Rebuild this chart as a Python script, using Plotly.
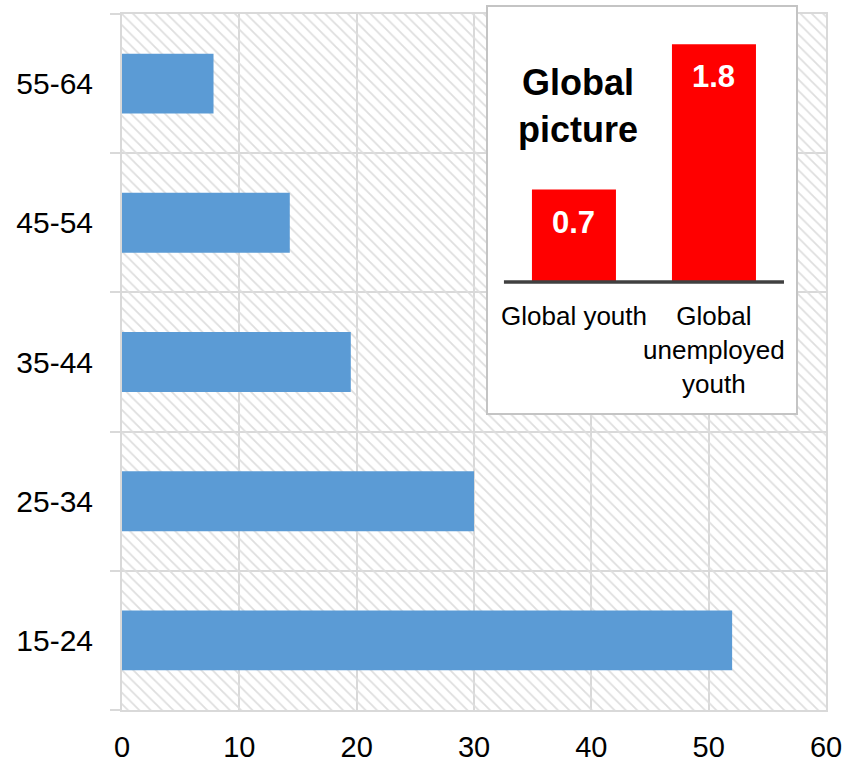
import plotly.graph_objects as go

# Age groups (bottom to top) and their values
age_groups = ["15-24", "25-34", "35-44", "45-54", "55-64"]
age_values = [52.0, 30.0, 19.5, 14.3, 7.8]
x_ticks = [0, 10, 20, 30, 40, 50, 60]

# Inset "Global picture"
global_cats = ["Global youth", "Global unemployed youth"]
global_labels = ["Global youth", "Global<br>unemployed<br>youth"]
global_values = [0.7, 1.8]

W, H = 846, 763
FONT = "Liberation Sans, Arial, sans-serif"
GRID = "#d9d9d9"

x_range = [x_ticks[0], x_ticks[-1]]

# pixel geometry helpers
def px_x(p):
    return p / W

def px_y(p):
    return 1 - p / H

main_xdom = [px_x(122), px_x(826)]
main_ydom = [px_y(710), px_y(14)]
inset_xdom = [px_x(487), px_x(797)]
inset_ydom = [px_y(414), px_y(6)]

inset_xrange = [-0.621, 1.593]
inset_yrange = [-1.0, 2.09]

fig = go.Figure()

# hatched background band behind each category
fig.add_trace(go.Bar(
    y=age_groups, x=[x_range[1]] * len(age_groups), orientation="h",
    width=1.0,
    marker=dict(color="#dedede", line=dict(width=0),
                pattern=dict(shape="\\", size=8, solidity=0.22, fillmode="replace")),
    hoverinfo="skip", showlegend=False,
))

fig.add_trace(go.Bar(
    y=age_groups, x=age_values, orientation="h", width=0.43,
    marker=dict(color="#5B9BD5", line=dict(width=0)),
    showlegend=False,
))

# inset bars
fig.add_trace(go.Bar(
    x=global_cats, y=global_values, width=0.6,
    marker=dict(color="#FF0000", line=dict(width=0)),
    xaxis="x2", yaxis="y2", showlegend=False,
))

fig.update_layout(
    width=W, height=H, autosize=False,
    margin=dict(l=0, r=0, t=0, b=0, autoexpand=False),
    paper_bgcolor="white", plot_bgcolor="white",
    barmode="overlay",
    font=dict(family=FONT, color="#000000"),
    xaxis=dict(
        domain=main_xdom, range=x_range, tickvals=x_ticks,
        showgrid=True, gridcolor=GRID, gridwidth=2,
        showline=True, mirror=True, linecolor=GRID, linewidth=2,
        zeroline=False, ticks="", tickfont=dict(size=29),
        ticklabelstandoff=10, anchor="y", automargin=False,
    ),
    yaxis=dict(
        domain=main_ydom, type="category", categoryorder="array",
        categoryarray=age_groups, range=[-0.5, len(age_groups) - 0.5],
        tickson="boundaries", ticks="outside", ticklen=10,
        tickcolor=GRID, tickwidth=2,
        showgrid=True, gridcolor=GRID, gridwidth=2,
        showline=True, mirror=True, linecolor=GRID, linewidth=2,
        tickfont=dict(size=30), ticklabelstandoff=21, anchor="x",
        automargin=False,
    ),
    xaxis2=dict(
        domain=inset_xdom, range=inset_xrange, type="category",
        categoryorder="array", categoryarray=global_cats,
        visible=False, anchor="y2", automargin=False,
    ),
    yaxis2=dict(
        domain=inset_ydom, range=inset_yrange, visible=False, anchor="x2",
        automargin=False,
    ),
)

shapes = [
    # white panel of the inset (drawn in the inset subplot, under its bars)
    dict(type="rect", xref="x2", yref="y2",
         x0=inset_xrange[0], x1=inset_xrange[1],
         y0=inset_yrange[0], y1=inset_yrange[1],
         fillcolor="white", line=dict(width=0), layer="below"),
    # inset frame
    dict(type="rect", xref="paper", yref="paper",
         x0=inset_xdom[0], x1=inset_xdom[1], y0=inset_ydom[0], y1=inset_ydom[1],
         line=dict(color="#c4c4c4", width=2), fillcolor="rgba(0,0,0,0)", layer="above"),
    # inset baseline
    dict(type="line", xref="x2", yref="y2", x0=-0.5, x1=len(global_cats) - 0.5,
         y0=0, y1=0, line=dict(color="#404040", width=3.5), layer="above"),
]
fig.update_layout(shapes=shapes)

annotations = [
    dict(text="<b>Global<br>picture</b>", xref="paper", yref="paper",
         x=px_x(578), y=px_y(106), xanchor="center", yanchor="middle",
         showarrow=False, font=dict(size=36, color="#000000")),
]
for cat, lab, val in zip(global_cats, global_labels, global_values):
    annotations.append(dict(
        text=f"<b>{val}</b>", xref="x2", yref="y2", x=cat, y=val,
        xanchor="center", yanchor="top", yshift=-13, showarrow=False,
        font=dict(size=31, color="white")))
    annotations.append(dict(
        text=lab, xref="x2", yref="y2", x=cat, y=0,
        xanchor="center", yanchor="top", yshift=-17, showarrow=False,
        font=dict(size=26, color="#000000")))
fig.update_layout(annotations=annotations)

fig.write_html("out.html")
